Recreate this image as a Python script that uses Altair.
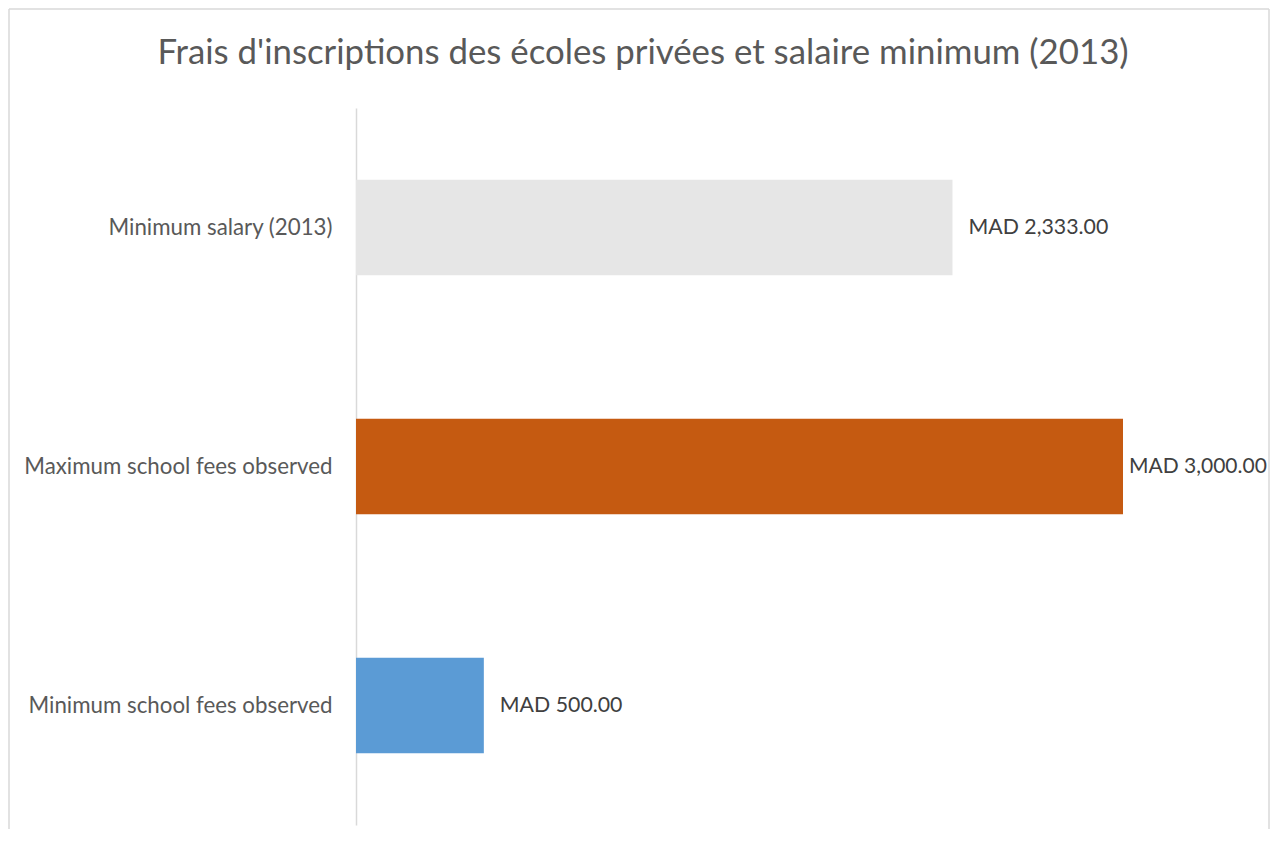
import altair as alt
import pandas as pd

categories = ["Minimum salary (2013)", "Maximum school fees observed", "Minimum school fees observed"]
values = [2333.00, 3000.00, 500.00]
colors = ["#e6e6e6", "#c55a11", "#5b9bd5"]
labels = ["MAD 2,333.00", "MAD 3,000.00", "MAD 500.00"]
title_text = "Frais d'inscriptions des écoles privées et salaire minimum (2013)"

df = pd.DataFrame({"cat": categories, "val": values, "col": colors, "lab": labels})

FONT = "Lato"

y = alt.Y("cat:N", sort=categories, title=None,
          scale=alt.Scale(paddingInner=0.6, paddingOuter=0.3),
          axis=alt.Axis(ticks=False, labelPadding=24, labelFontSize=22.3, labelFont=FONT,
                        labelColor="#595959", domainColor="#d9d9d9", domainWidth=1.5,
                        labelLimit=400))
x = alt.X("val:Q", title=None, scale=alt.Scale(domain=[0, 3000], nice=False),
          axis=None)

bars = alt.Chart(df).mark_bar().encode(
    x=x, y=y, color=alt.Color("col:N", scale=None)
)
text_a = alt.Chart(df).transform_filter(alt.datum.val < 3000).mark_text(
    align="left", dx=16, fontSize=21.3, font=FONT, color="#404040").encode(
    x=x, y=alt.Y("cat:N", sort=categories), text="lab:N"
)
text_b = alt.Chart(df).transform_filter(alt.datum.val >= 3000).mark_text(
    align="left", dx=6, fontSize=21, font=FONT, color="#404040").encode(
    x=x, y=alt.Y("cat:N", sort=categories), text="lab:N"
)

one = pd.DataFrame({"t": [title_text]})
def edge(x1, x2, y1, y2):
    return alt.Chart(one).mark_rule(color="#d9d9d9", strokeWidth=1.5).encode(
        x=alt.value(x1), x2=alt.value(x2), y=alt.value(y1), y2=alt.value(y2))

left = edge(-347, -347, -99, 760)
top = edge(-347, 913, -99, -99)
right = edge(913, 913, -99, 760)

title = alt.Chart(one).mark_text(fontSize=34.8, font=FONT, color="#595959", align="center",
                                 baseline="middle").encode(
    x=alt.value(287), y=alt.value(-54), text="t:N")

chart = alt.layer(left, top, right, bars, text_a, text_b, title).properties(
    width=767, height=717,
    padding={"left": 348, "top": 100, "right": 148, "bottom": 4},
    autosize=alt.AutoSizeParams(type="none"),
).configure(background="white").configure_view(stroke=None)

chart.save("out.html", embed_options={"renderer": "svg", "actions": False})
